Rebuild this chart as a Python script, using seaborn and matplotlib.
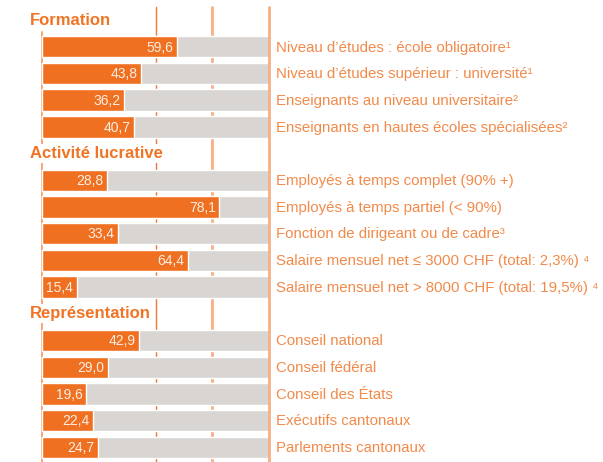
import pandas as pd
import numpy as np
import matplotlib
matplotlib.use("Agg")
import matplotlib.pyplot as plt
import seaborn as sns

sns.set_theme(style="white")
plt.rcParams['font.family'] = ['Liberation Sans Narrow', 'Liberation Sans', 'DejaVu Sans']

# sections and their rows
sections = ["Formation", "Activité lucrative", "Représentation"]
formation_labels = [
    "Niveau d’études : école obligatoire¹",
    "Niveau d’études supérieur : université¹",
    "Enseignants au niveau universitaire²",
    "Enseignants en hautes écoles spécialisées²",
]
formation_values = [59.6, 43.8, 36.2, 40.7]
activite_labels = [
    "Employés à temps complet (90% +)",
    "Employés à temps partiel (< 90%)",
    "Fonction de dirigeant ou de cadre³",
    "Salaire mensuel net ≤ 3000 CHF (total: 2,3%) ⁴",
    "Salaire mensuel net > 8000 CHF (total: 19,5%) ⁴",
]
activite_values = [28.8, 78.1, 33.4, 64.4, 15.4]
repr_labels = [
    "Conseil national",
    "Conseil fédéral",
    "Conseil des États",
    "Exécutifs cantonaux",
    "Parlements cantonaux",
]
repr_values = [42.9, 29.0, 19.6, 22.4, 24.7]

ORANGE = "#f07022"
TEXT_ORANGE = "#f28a4a"
HEAD_ORANGE = "#f07424"
GREY = "#d9d5d2"

# build one table with header rows (no value) between the groups
rows = []
for sec, labs, vals in zip(sections,
                           [formation_labels, activite_labels, repr_labels],
                           [formation_values, activite_values, repr_values]):
    rows.append({"row": sec, "value": np.nan, "header": True})
    for l, v in zip(labs, vals):
        rows.append({"row": l, "value": v, "header": False})
df = pd.DataFrame(rows)
df["total"] = np.where(df["header"], np.nan, 100.0)
order = list(df["row"])

fig = plt.figure(figsize=(6.03, 4.62), dpi=100)
ax = fig.add_axes([0, 0, 1, 1])

# reference lines behind the bars
ax.axvline(50, ymin=0, ymax=0.985, color="#ec7a36", lw=1.0, zorder=0)
ax.axvline(75, ymin=0, ymax=0.985, color="#f7b083", lw=2.0, zorder=0)
ax.axvline(0, ymin=0, ymax=(16.55 - 0.45) / 17.3, color="#f6a676", lw=1.4, zorder=0)

sns.barplot(data=df, x="total", y="row", order=order, color=GREY,
            width=0.8, orient="h", ax=ax, zorder=1, saturation=1)
sns.barplot(data=df, x="value", y="row", order=order, color=ORANGE,
            width=0.8, orient="h", ax=ax, zorder=2, saturation=1)
ax.axvline(100, ymin=0, ymax=0.985, color="#f7b083", lw=2.0, zorder=3)

for i, r in df.iterrows():
    if r["header"]:
        ax.text(-5.3, i, r["row"], ha="left", va="center", fontsize=12,
                fontweight="bold", color=HEAD_ORANGE, zorder=5,
                bbox=dict(facecolor="white", edgecolor="none", pad=1.5))
    else:
        ax.text(r["value"] - 1.6, i + 0.03, f"{r['value']:.1f}".replace(".", ","),
                ha="right", va="center", fontsize=10, color="#fdeee3", zorder=4)
        ax.text(103, i + 0.03, r["row"], ha="left", va="center", fontsize=10.8,
                color=TEXT_ORANGE, zorder=4)

ax.set_xlim(-18.5, 247.1)
ax.set_ylim(16.55, -0.75)
ax.set_axis_off()

fig.savefig("out.png", dpi=100)
